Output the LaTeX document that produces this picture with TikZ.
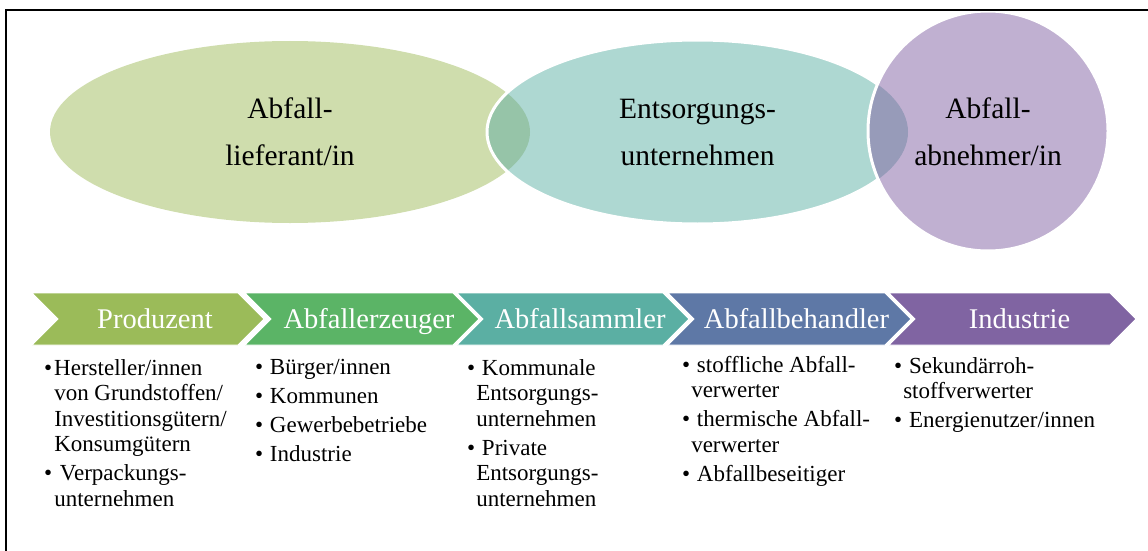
\documentclass[tikz,border=0pt]{standalone}
\usepackage{fontspec}
\setmainfont{Liberation Serif}
% fills of the three overlapping roles
\definecolor{lieferantfill}{RGB}{207,221,173}
\definecolor{entsorgerfill}{RGB}{174,216,210}
\definecolor{abnehmerfill}{RGB}{192,176,209}
\definecolor{overlapA}{RGB}{150,196,168}
\definecolor{overlapB}{RGB}{151,155,185}
% process chevrons
\definecolor{chevA}{RGB}{155,187,89}
\definecolor{chevB}{RGB}{91,180,102}
\definecolor{chevC}{RGB}{91,175,163}
\definecolor{chevD}{RGB}{94,120,166}
\definecolor{chevE}{RGB}{128,100,162}
\begin{document}
\begin{tikzpicture}[x=1pt,y=-1pt,
  bubbletext/.style={font=\fontsize{29.5}{47}\selectfont, inner sep=0pt, anchor=base},
  chevlabel/.style={font=\fontsize{28.5}{34}\selectfont, text=white, inner sep=0pt, anchor=base},
  itemlist/.style={font=\fontsize{23}{25.5}\selectfont, inner sep=0pt, anchor=base west},
  ringline/.style={draw=white, line width=3pt},
  chevshape/.style={draw=white, line width=0.8pt}]
\useasboundingbox (0,0) rectangle (1148,551);

% --- overlapping role shapes ---
\def\lefte{(290,132) ellipse [x radius=240pt, y radius=91pt]}
\def\mide{(697.5,132) ellipse [x radius=210.5pt, y radius=92pt]}
\def\righte{(988,131) circle [radius=120pt]}
\fill[lieferantfill] \lefte;
\fill[entsorgerfill] \mide;
\begin{scope}
  \clip \mide;
  \fill[overlapA] \lefte;
\end{scope}
\draw[ringline] \mide;
\fill[abnehmerfill] \righte;
\begin{scope}
  \clip \righte;
  \fill[overlapB] \mide;
\end{scope}
\draw[ringline] \righte;

\node[bubbletext] (lieferant) at (290,118)
  {\begin{tabular}[t]{@{}c@{}}Abfall-\\lieferant/in\end{tabular}};
\node[bubbletext] (entsorger) at (697.5,118)
  {\begin{tabular}[t]{@{}c@{}}Entsorgungs-\\unternehmen\end{tabular}};
\node[bubbletext] (abnehmer) at (988,118)
  {\begin{tabular}[t]{@{}c@{}}Abfall-\\abnehmer/in\end{tabular}};

% --- process chain ---
\foreach \L/\R/\col/\txt/\nm in {32/238/chevA/Produzent/produzent,
    245/453/chevB/Abfallerzeuger/erzeuger,
    457/663/chevC/Abfallsammler/sammler,
    668/885/chevD/Abfallbehandler/behandler,
    889/1110/chevE/Industrie/industrie}{
  \filldraw[chevshape, fill=\col] (\L,293) -- (\R,293) -- (\R+26,319) -- (\R,345)
    -- (\L,345) -- (\L+26,319) -- cycle;
  \node[chevlabel] (\nm) at ({(\L+\R)/2+20},328) {\txt};
}

% --- member lists under each step ---
\node[itemlist] (produzentlist) at (44,375) {\begin{tabular}[t]{@{}l@{\hspace{2pt}}l@{}}
\textbullet & Hersteller/innen\\
 & von Grundstoffen/\\
 & Investitionsgütern/\\
 & Konsumgütern\\[3.5pt]
\textbullet & \ Verpackungs-\\
 & unternehmen
\end{tabular}};

\node[itemlist] (erzeugerlist) at (255,374) {\begin{tabular}[t]{@{}l@{\hspace{1pt}}l@{}}
\textbullet & \ Bürger/innen\\[3.5pt]
\textbullet & \ Kommunen\\[3.5pt]
\textbullet & \ Gewerbebetriebe\\[3.5pt]
\textbullet & \ Industrie
\end{tabular}};

\node[itemlist] (sammlerlist) at (467,375) {\begin{tabular}[t]{@{}l@{\hspace{1pt}}l@{}}
\textbullet & \ Kommunale\\
 & Entsorgungs-\\
 & unternehmen\\[3.5pt]
\textbullet & \ Private\\
 & Entsorgungs-\\
 & unternehmen
\end{tabular}};

\node[itemlist] (behandlerlist) at (682,372) {\begin{tabular}[t]{@{}l@{\hspace{1pt}}l@{}}
\textbullet & \ stoffliche Abfall-\\
 & verwerter\\[3.5pt]
\textbullet & \ thermische Abfall-\\
 & verwerter\\[3.5pt]
\textbullet & \ Abfallbeseitiger
\end{tabular}};

\node[itemlist] (industrielist) at (894,373) {\begin{tabular}[t]{@{}l@{\hspace{1pt}}l@{}}
\textbullet & \ Sekundärroh-\\
 & stoffverwerter\\[3.5pt]
\textbullet & \ Energienutzer/innen
\end{tabular}};

% --- frame (top and left edges) ---
\draw[line width=2pt] (6,551) -- (6,10) -- (1148,10);
\end{tikzpicture}
\end{document}
